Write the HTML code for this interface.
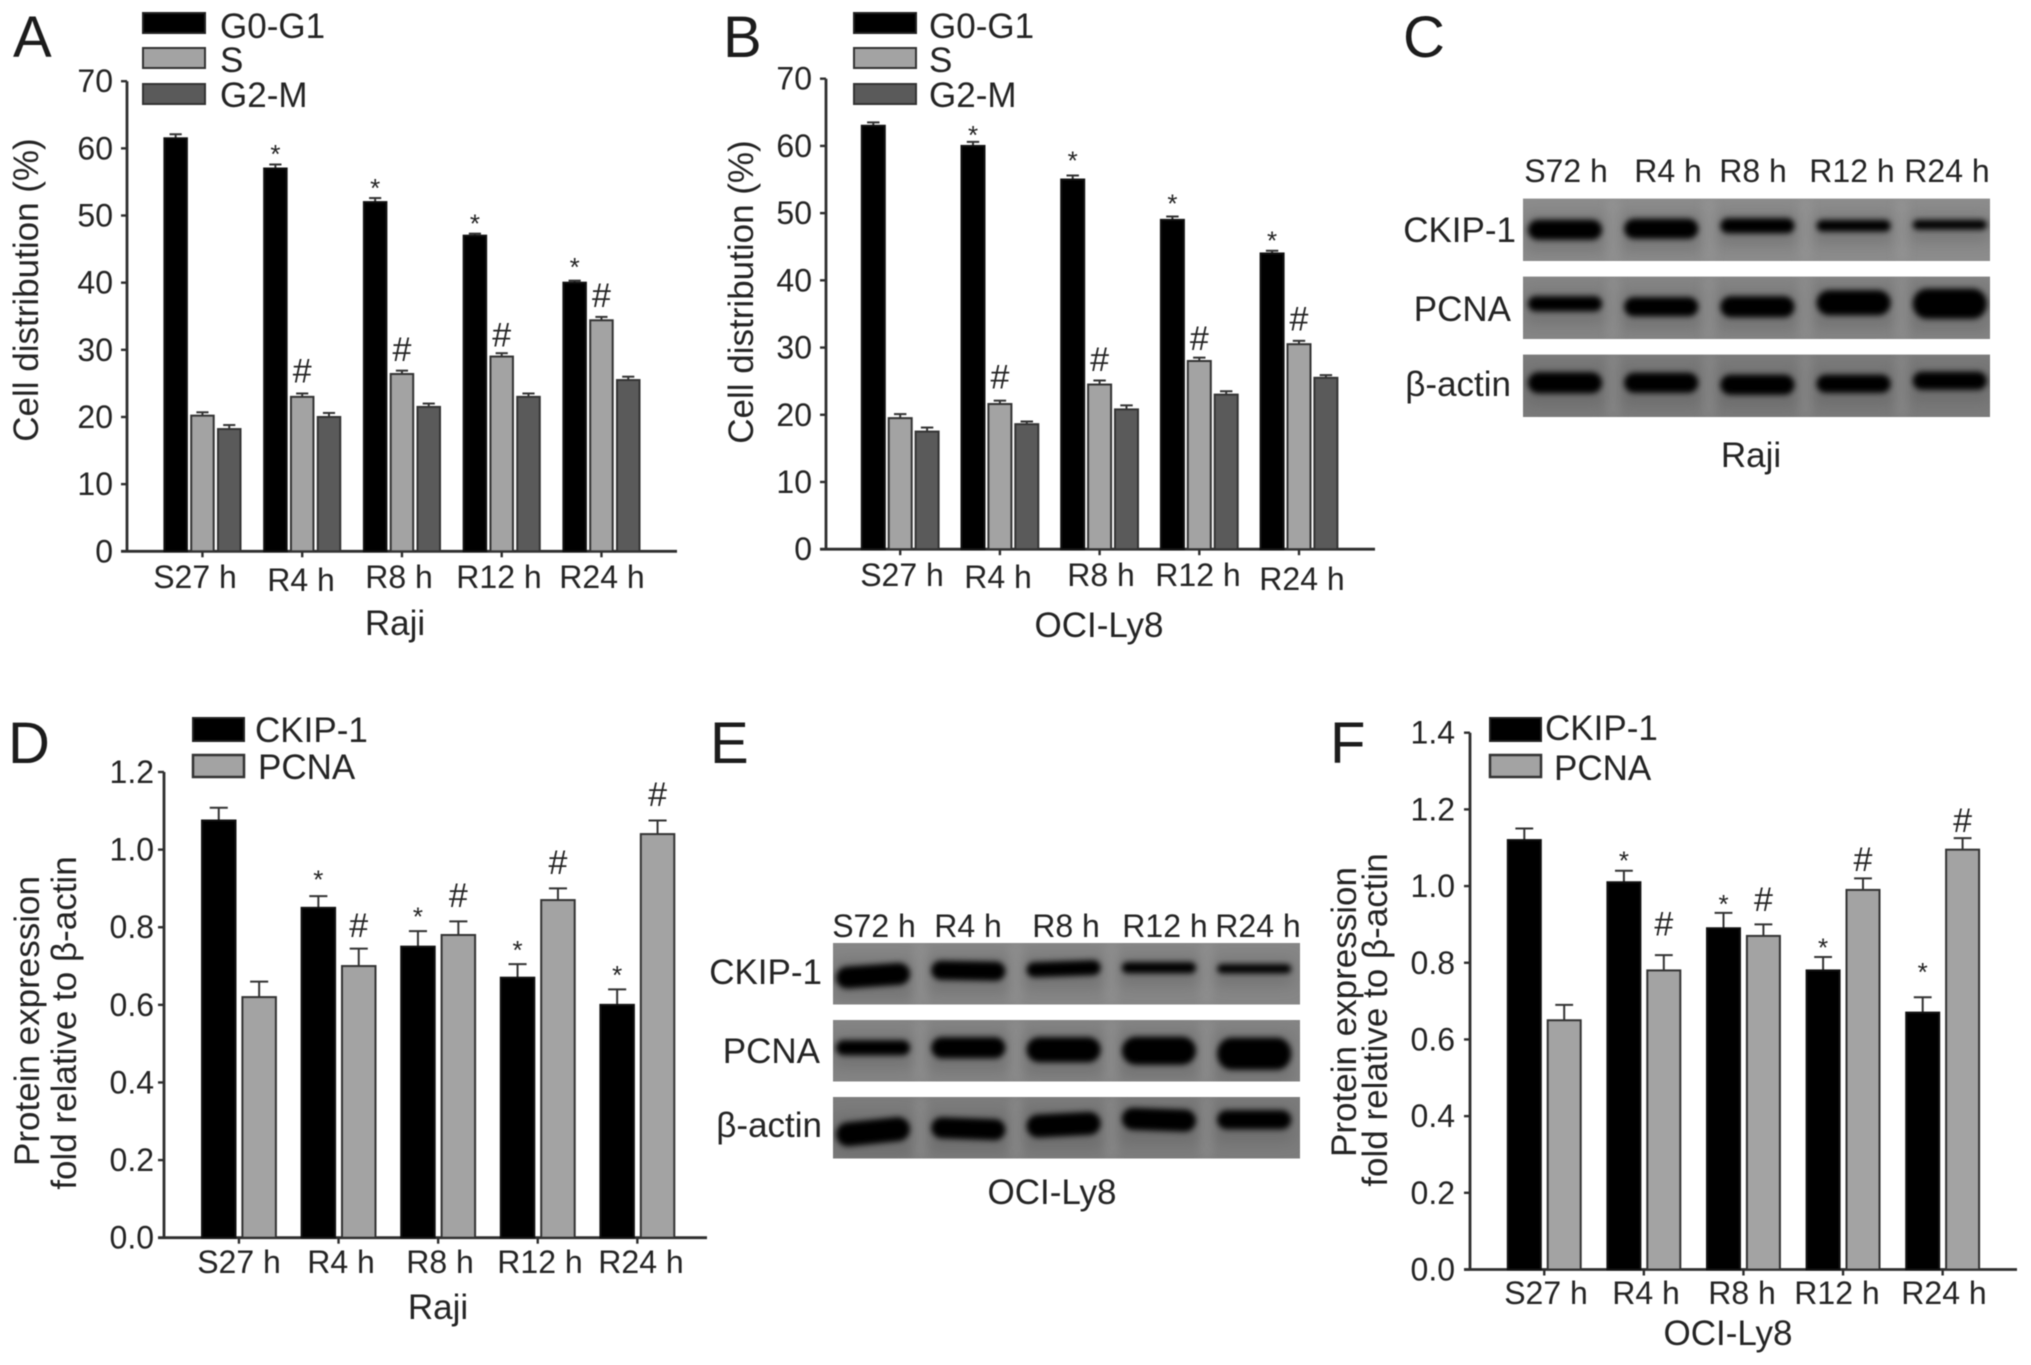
<!DOCTYPE html>
<html lang="en">
<head>
<meta charset="utf-8">
<title>Cell distribution and protein expression panels</title>
<style>
html,body{margin:0;padding:0;background:#fff;}
svg{display:block;filter:blur(0.6px);}
text{font-family:"Liberation Sans",sans-serif;fill:#242424;}
.tick{font-size:32px;}
.lab{font-size:35px;}
.row{font-size:35px;}
.letter{font-size:58px;fill:#1c1c1c;}
</style>
</head>
<body>
<svg id="figure" xmlns="http://www.w3.org/2000/svg" width="2031" height="1365" viewBox="0 0 2031 1365">
<defs>
<filter id="bandBlur" x="-20%" y="-50%" width="140%" height="200%"><feGaussianBlur stdDeviation="2.8"/></filter>
<filter id="haloBlur" x="-30%" y="-80%" width="160%" height="260%"><feGaussianBlur stdDeviation="7"/></filter>
<filter id="laneBlur" x="-100%" y="-10%" width="300%" height="120%"><feGaussianBlur stdDeviation="5"/></filter>
</defs>
<rect width="2031" height="1365" fill="#fff"/>

<!-- Panel letters -->
<text class="letter" x="13" y="57">A</text>
<text class="letter" x="723" y="57">B</text>
<text class="letter" x="1403" y="57">C</text>
<text class="letter" x="8" y="763">D</text>
<text class="letter" x="710" y="763">E</text>
<text class="letter" x="1330" y="763">F</text>

<!-- Panel A static labels -->
<g>
<rect x="143" y="13" width="62" height="20" fill="#000" stroke="#222" stroke-width="2"/>
<rect x="143" y="48" width="62" height="20" fill="#a3a3a3" stroke="#333" stroke-width="2"/>
<rect x="143" y="84" width="62" height="20" fill="#5a5a5a" stroke="#333" stroke-width="2"/>
<text class="lab" x="220" y="38">G0-G1</text>
<text class="lab" x="220" y="72">S</text>
<text class="lab" x="220" y="107">G2-M</text>
<text class="lab" text-anchor="middle" transform="translate(38,290) rotate(-90)">Cell distribution (%)</text>
<text class="tick" text-anchor="middle" x="195" y="588">S27 h</text>
<text class="tick" text-anchor="middle" x="301" y="591">R4 h</text>
<text class="tick" text-anchor="middle" x="399" y="588">R8 h</text>
<text class="tick" text-anchor="middle" x="499" y="588">R12 h</text>
<text class="tick" text-anchor="middle" x="602" y="588">R24 h</text>
<text class="lab" text-anchor="middle" x="395" y="635">Raji</text>
</g>

<!-- Panel B static labels -->
<g>
<rect x="854" y="13" width="62" height="20" fill="#000" stroke="#222" stroke-width="2"/>
<rect x="854" y="48" width="62" height="20" fill="#a3a3a3" stroke="#333" stroke-width="2"/>
<rect x="854" y="84" width="62" height="20" fill="#5a5a5a" stroke="#333" stroke-width="2"/>
<text class="lab" x="929" y="38">G0-G1</text>
<text class="lab" x="929" y="72">S</text>
<text class="lab" x="929" y="107">G2-M</text>
<text class="lab" text-anchor="middle" transform="translate(753,292) rotate(-90)">Cell distribution (%)</text>
<text class="tick" text-anchor="middle" x="902" y="586">S27 h</text>
<text class="tick" text-anchor="middle" x="998" y="588">R4 h</text>
<text class="tick" text-anchor="middle" x="1101" y="586">R8 h</text>
<text class="tick" text-anchor="middle" x="1198" y="586">R12 h</text>
<text class="tick" text-anchor="middle" x="1302" y="590">R24 h</text>
<text class="lab" text-anchor="middle" x="1099" y="637">OCI-Ly8</text>
</g>

<!-- Panel C static labels -->
<g>
<text class="tick" text-anchor="middle" x="1566" y="182">S72 h</text>
<text class="tick" text-anchor="middle" x="1668" y="182">R4 h</text>
<text class="tick" text-anchor="middle" x="1753" y="182">R8 h</text>
<text class="tick" text-anchor="middle" x="1852" y="182">R12 h</text>
<text class="tick" text-anchor="middle" x="1947" y="182">R24 h</text>
<text class="row" text-anchor="end" x="1516" y="242">CKIP-1</text>
<text class="row" text-anchor="end" x="1511" y="321">PCNA</text>
<text class="row" text-anchor="end" x="1511" y="396">β-actin</text>
<text class="lab" text-anchor="middle" x="1751" y="467">Raji</text>
</g>

<!-- Panel D static labels -->
<g>
<rect x="193" y="718" width="51" height="23" fill="#000" stroke="#222" stroke-width="2"/>
<rect x="193" y="755" width="51" height="22" fill="#a3a3a3" stroke="#333" stroke-width="2.5"/>
<text class="lab" x="255" y="742">CKIP-1</text>
<text class="lab" x="258" y="779">PCNA</text>
<text class="lab" text-anchor="middle" transform="translate(39,1021) rotate(-90)">Protein expression</text>
<text class="lab" text-anchor="middle" transform="translate(76,1023) rotate(-90)">fold relative to β-actin</text>
<text class="tick" text-anchor="middle" x="239" y="1273">S27 h</text>
<text class="tick" text-anchor="middle" x="341" y="1273">R4 h</text>
<text class="tick" text-anchor="middle" x="440" y="1273">R8 h</text>
<text class="tick" text-anchor="middle" x="540" y="1273">R12 h</text>
<text class="tick" text-anchor="middle" x="641" y="1273">R24 h</text>
<text class="lab" text-anchor="middle" x="438" y="1319">Raji</text>
</g>

<!-- Panel E static labels -->
<g>
<text class="tick" text-anchor="middle" x="874" y="937">S72 h</text>
<text class="tick" text-anchor="middle" x="968" y="937">R4 h</text>
<text class="tick" text-anchor="middle" x="1066" y="937">R8 h</text>
<text class="tick" text-anchor="middle" x="1165" y="937">R12 h</text>
<text class="tick" text-anchor="middle" x="1258" y="937">R24 h</text>
<text class="row" text-anchor="end" x="822" y="984">CKIP-1</text>
<text class="row" text-anchor="end" x="820" y="1063">PCNA</text>
<text class="row" text-anchor="end" x="822" y="1137">β-actin</text>
<text class="lab" text-anchor="middle" x="1052" y="1204">OCI-Ly8</text>
</g>

<!-- Panel F static labels -->
<g>
<rect x="1490" y="718" width="51" height="23" fill="#000" stroke="#222" stroke-width="2"/>
<rect x="1490" y="755" width="51" height="22" fill="#a3a3a3" stroke="#333" stroke-width="2.5"/>
<text class="lab" x="1545" y="740">CKIP-1</text>
<text class="lab" x="1554" y="780">PCNA</text>
<text class="lab" text-anchor="middle" transform="translate(1356,1012) rotate(-90)">Protein expression</text>
<text class="lab" text-anchor="middle" transform="translate(1387,1020) rotate(-90)">fold relative to β-actin</text>
<text class="tick" text-anchor="middle" x="1546" y="1304">S27 h</text>
<text class="tick" text-anchor="middle" x="1646" y="1304">R4 h</text>
<text class="tick" text-anchor="middle" x="1742" y="1304">R8 h</text>
<text class="tick" text-anchor="middle" x="1837" y="1304">R12 h</text>
<text class="tick" text-anchor="middle" x="1944" y="1304">R24 h</text>
<text class="lab" text-anchor="middle" x="1728" y="1345">OCI-Ly8</text>
</g>

<g id="marks"></g>
</svg>

<script>
// ---- Panel A (Raji cell cycle) ----
const aTicks = [0,10,20,30,40,50,60,70];
const aG0G1 = [61.5,57,52,47,40];
const aS = [20.2,23,26.4,29,34.4];
const aG2M = [18.2,20,21.5,23,25.5];
const aG0G1Err = [0.6,0.6,0.6,0.3,0.3];
const aSErr = [0.5,0.5,0.5,0.5,0.5];
const aG2MErr = [0.6,0.6,0.5,0.5,0.5];
const aStarLevels = [null,60.05,55,49.7,43.2];
const aHashLevels = [null,26.9,30.1,32.3,38.2];

// ---- Panel B (OCI-Ly8 cell cycle) ----
const bTicks = [0,10,20,30,40,50,60,70];
const bG0G1 = [63,60,55,49,44];
const bS = [19.5,21.6,24.5,28,30.5];
const bG2M = [17.5,18.6,20.8,23,25.5];
const bG0G1Err = [0.5,0.6,0.6,0.5,0.4];
const bSErr = [0.6,0.5,0.6,0.5,0.5];
const bG2MErr = [0.6,0.4,0.6,0.5,0.4];
const bStarLevels = [null,62.5,58.7,52.3,46.8];
const bHashLevels = [null,25.7,28.3,31.4,34.3];

// ---- Panel D (Raji protein) ----
const dTicks = ['0.0','0.2','0.4','0.6','0.8','1.0','1.2'];
const dCkip = [1.075,0.85,0.75,0.67,0.60];
const dPcna = [0.62,0.70,0.78,0.87,1.04];
const dCkipErr = [0.033,0.03,0.04,0.035,0.04];
const dPcnaErr = [0.04,0.045,0.035,0.03,0.035];
const dStarLevels = [null,0.938,0.843,0.757,0.692];
const dHashLevels = [null,0.806,0.883,0.968,1.143];

// ---- Panel F (OCI-Ly8 protein) ----
const fTicks = ['0.0','0.2','0.4','0.6','0.8','1.0','1.2','1.4'];
const fCkip = [1.12,1.01,0.89,0.78,0.67];
const fPcna = [0.65,0.78,0.87,0.99,1.095];
const fCkipErr = [0.03,0.03,0.04,0.035,0.04];
const fPcnaErr = [0.04,0.04,0.03,0.03,0.03];
const fStarLevels = [null,1.082,0.969,0.855,0.792];
const fHashLevels = [null,0.902,0.966,1.071,1.172];

// ---- Western blots: band density (thickness), drift from the strip centre, tilt ----
const cCkipDensity = [20,20,15,11.5,9.5];
const cPcnaDensity = [15,19,21,25,30];
const cActinDensity = [21,20,20,18,18];
const cCkipDrift = [0,-1,-4,-4,-5];
const cPcnaDrift = [-4,-1,-1,-5,-4];
const cActinDrift = [-3,-3,-1,-2,-5];
const cNoTilt = [0,0,0,0,0];
const eCkipDensity = [22,19,15,11,9];
const ePcnaDensity = [15,21,25,28,32];
const eActinDensity = [24,21,23,22,19];
const eCkipDrift = [2,-3,-5,-6,-5];
const ePcnaDrift = [-3,-3,-1,0,3];
const eActinDrift = [4,1,-3,-8,-8];
const eCkipTilt = [-4,1,-2,0,0];
const ePcnaTilt = [0,0,0,0,0];
const eActinTilt = [-6,2,-3,2,0];

const NS = 'http://www.w3.org/2000/svg';
const root = document.getElementById('marks');

function mk(tag, attrs, parent, text) {
  const el = document.createElementNS(NS, tag);
  for (const k in attrs) el.setAttribute(k, attrs[k]);
  if (text !== undefined) el.textContent = text;
  (parent || root).appendChild(el);
  return el;
}

const FILLS = { black:'#000000', light:'#a3a3a3', dark:'#5a5a5a' };

function drawBarPanel(p) {
  const g = mk('g', {});
  
  
  const y = v => p.y0 - (v - 0) * (p.y0 - p.yTop) / p.yMax;

  const yAxis = mk('line', {x1:p.axisX, x2:p.axisX, y1:y(p.yMax), y2:p.y0, stroke:'#2e2e2e', 'stroke-width':2.8}, g);
  
  
  const xAxis = mk('line', {x1:p.axisX-6, x2:p.axisEnd, y1:p.y0, y2:p.y0, stroke:'#2e2e2e', 'stroke-width':2.8}, g);
  
  

  p.ticks.forEach(t => {
    const v = parseFloat(t);
    const tk = mk('line', {x1:p.axisX-6, x2:p.axisX, y1:y(v), y2:y(v), stroke:'#2e2e2e', 'stroke-width':2.4}, g);
    
    
    const lb = mk('text', {class:'tick', x:p.labelRight, y:y(v)+11, 'text-anchor':'end'}, g, String(t));
    
    
  });

  const nGroups = p.series[0].values.length;
  const nSeries = p.series.length;
  for (let i = 0; i < nGroups; i++) {
    const gx = p.x0 + i * p.pitch;
    const cx = gx + ((nSeries - 1) * p.step + p.barW) / 2;
    const xt = mk('line', {x1:cx, x2:cx, y1:p.y0, y2:p.y0+6, stroke:'#2e2e2e', 'stroke-width':2.4}, g);
    
    

    p.series.forEach((s, j) => {
      const bx = gx + j * p.step;
      const mid = bx + p.barW / 2;
      const top = y(s.values[i]);
      const errTop = y(s.values[i] + s.errs[i]);
      const stem = mk('line', {x1:mid, x2:mid, y1:top, y2:errTop, stroke:'#333', 'stroke-width':2}, g);
      
      
      const cap = mk('line', {x1:mid-p.barW*0.27, x2:mid+p.barW*0.27, y1:errTop, y2:errTop, stroke:'#333', 'stroke-width':2}, g);
      
      
      const bar = mk('rect', {x:bx, y:top, width:p.barW, height:p.y0-top, fill:FILLS[s.fill], stroke: s.fill==='black' ? '#111' : '#333', 'stroke-width':2}, g);
      
      
    });

    const sMid = gx + p.barW / 2;
    const hMid = gx + p.step + p.barW / 2;
    if (p.stars[i] !== null) {
      const st = mk('text', {x:sMid, y:y(p.stars[i])+15, 'text-anchor':'middle', 'font-size':26}, g, '*');
      
      
    }
    if (p.hashes[i] !== null) {
      const h = mk('text', {x:hMid, y:y(p.hashes[i])+12, 'text-anchor':'middle', 'font-size':34}, g, '#');
      
      
    }
  }
}

drawBarPanel({name:'panel-a-chart', axisX:127, axisEnd:677, y0:551.3, yTop:81.2, yMax:70, labelRight:113, ticks:aTicks,
  x0:164.4, pitch:99.75, barW:22.5, step:26.8, stars:aStarLevels, hashes:aHashLevels,
  series:[{key:'g0g1',fill:'black',values:aG0G1,errs:aG0G1Err},{key:'s',fill:'light',values:aS,errs:aSErr},{key:'g2m',fill:'dark',values:aG2M,errs:aG2MErr}]});

drawBarPanel({name:'panel-b-chart', axisX:826, axisEnd:1375, y0:549.2, yTop:78.7, yMax:70, labelRight:812, ticks:bTicks,
  x0:861.8, pitch:99.7, barW:23, step:26.9, stars:bStarLevels, hashes:bHashLevels,
  series:[{key:'g0g1',fill:'black',values:bG0G1,errs:bG0G1Err},{key:'s',fill:'light',values:bS,errs:bSErr},{key:'g2m',fill:'dark',values:bG2M,errs:bG2MErr}]});

drawBarPanel({name:'panel-d-chart', axisX:164, axisEnd:707, y0:1237.7, yTop:772, yMax:1.2, labelRight:154, ticks:dTicks,
  x0:202, pitch:99.6, barW:33.5, step:40.4, stars:dStarLevels, hashes:dHashLevels,
  series:[{key:'ckip1',fill:'black',values:dCkip,errs:dCkipErr},{key:'pcna',fill:'light',values:dPcna,errs:dPcnaErr}]});

drawBarPanel({name:'panel-f-chart', axisX:1470, axisEnd:2017, y0:1269.5, yTop:732.7, yMax:1.4, labelRight:1455, ticks:fTicks,
  x0:1507.8, pitch:99.6, barW:33, step:39.9, stars:fStarLevels, hashes:fHashLevels,
  series:[{key:'ckip1',fill:'black',values:fCkip,errs:fCkipErr},{key:'pcna',fill:'light',values:fPcna,errs:fPcnaErr}]});

function drawBlot(b) {
  const g = mk('g', {});
  
  
  b.rows.forEach((r, ri) => {
    const top = b.rowTop + ri * b.rowPitch;
    const strip = mk('rect', {x:b.left, y:top, width:b.width, height:b.rowH, fill:r.tone}, g);
    
    
    const clipId = b.name + '-clip-' + ri;
    const cp = mk('clipPath', {id:clipId}, g);
    mk('rect', {x:b.left, y:top, width:b.width, height:b.rowH}, cp);
    const inner = mk('g', {'clip-path':'url(#' + clipId + ')'}, g);
    r.density.forEach((d, i) => {
      const cx = b.laneStart + i * b.lanePitch;
      const cy = top + b.rowH / 2 + r.drift[i];
      if (i < r.density.length - 1) {
        const gapLane = mk('rect', {x:cx + b.lanePitch/2 - 6, y:top, width:12, height:b.rowH, fill:'#a6a6a6', opacity:0.3, filter:'url(#laneBlur)'}, inner);
        
        
      }
      const halo = mk('rect', {x:cx - b.bandW/2 - 2, y:cy - d/2 - 5, width:b.bandW + 4, height:d + 18, fill:'#555', opacity:0.35, filter:'url(#haloBlur)'}, inner);
      
      
      const band = mk('rect', {x:cx - b.bandW/2, y:cy - d/2, width:b.bandW, height:d, rx:Math.min(d/2, 14), ry:d/2, fill:'#050505', filter:'url(#bandBlur)', transform:'rotate(' + r.tilt[i] + ' ' + cx + ' ' + cy + ')'}, inner);
      
      
    });
  });
}

drawBlot({name:'panel-c-blot', left:1523, width:467, rowTop:198.6, rowPitch:78, rowH:62.4,
  laneStart:1565, lanePitch:96.2, bandW:74,
  rows:[{key:'ckip1',tone:'#8c8c8c',density:cCkipDensity,drift:cCkipDrift,tilt:cNoTilt},{key:'pcna',tone:'#858585',density:cPcnaDensity,drift:cPcnaDrift,tilt:cNoTilt},{key:'actin',tone:'#7b7b7b',density:cActinDensity,drift:cActinDrift,tilt:cNoTilt}]});

drawBlot({name:'panel-e-blot', left:833, width:467, rowTop:943, rowPitch:77, rowH:61.5,
  laneStart:873, lanePitch:95.3, bandW:74,
  rows:[{key:'ckip1',tone:'#868686',density:eCkipDensity,drift:eCkipDrift,tilt:eCkipTilt},{key:'pcna',tone:'#848484',density:ePcnaDensity,drift:ePcnaDrift,tilt:ePcnaTilt},{key:'actin',tone:'#7c7c7c',density:eActinDensity,drift:eActinDrift,tilt:eActinTilt}]});
</script>
</body>
</html>
